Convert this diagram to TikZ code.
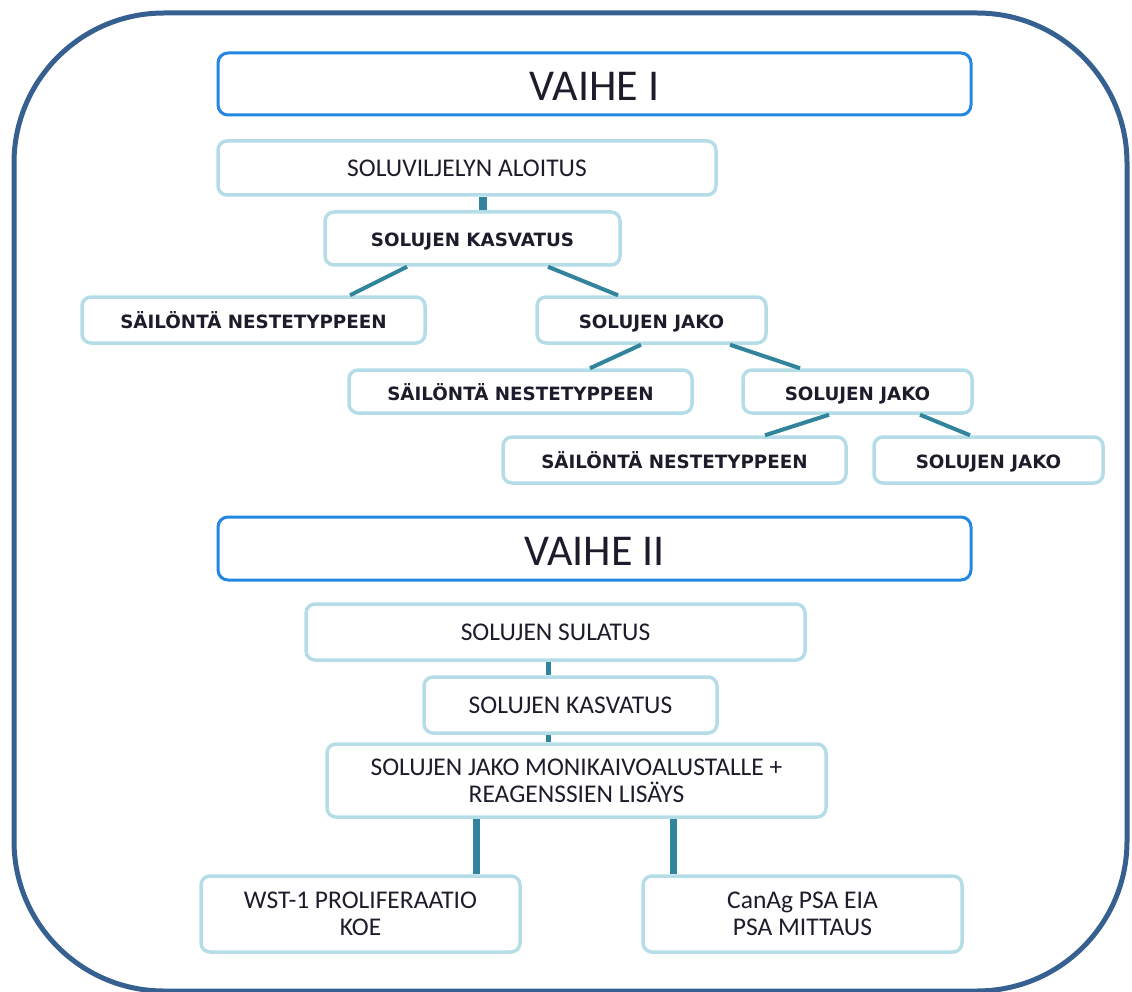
\documentclass[tikz,border=0pt]{standalone}
\usepackage{fontspec}
\setmainfont{Carlito}
\newfontfamily\widefont{DejaVu Sans}
\usetikzlibrary{calc}
\definecolor{framecol}{HTML}{36608F}
\definecolor{phasecol}{HTML}{2287E3}
\definecolor{boxcol}{HTML}{B5DDE8}
\definecolor{linkcol}{HTML}{31849B}
\definecolor{inkcol}{HTML}{1C1C2A}
\begin{document}
\begin{tikzpicture}[x=1pt,y=-1pt,
  phase/.style={draw=phasecol, line width=3pt, rounded corners=10pt, minimum width=753pt, minimum height=62pt, text height=34pt, text depth=0pt, text=inkcol, font=\fontsize{44}{46}\selectfont},
  stepbox/.style={draw=boxcol, line width=3.5pt, rounded corners=9pt, align=center, text=inkcol, font=\fontsize{25.5}{27}\selectfont},
  widebox/.style={stepbox, text height=19pt, text depth=2pt, font=\widefont\bfseries\fontsize{18.3}{20}\selectfont},
  link/.style={draw=linkcol, line width=4pt},
  bar/.style={draw=linkcol, line width=#1},
  bar/.default=7pt]
\useasboundingbox (0,0) rectangle (1132,992);
\draw[framecol, line width=5pt, rounded corners=150pt] (14,13) rectangle (1127,991);
% vaihe I
\node[phase] (vaihe1) at (594.5,84) {VAIHE I};
\node[stepbox, minimum width=498pt, minimum height=54pt] (aloitus) at (467,168) {SOLUVILJELYN ALOITUS};
\node[widebox, minimum width=295pt, minimum height=53pt] (kasvatus1) at (472.5,238.5) {SOLUJEN KASVATUS};
\node[widebox, minimum width=343pt, minimum height=46pt] (sailonta1) at (253.5,320) {SÄILÖNTÄ NESTETYPPEEN};
\node[widebox, minimum width=229pt, minimum height=46pt] (jako1) at (651.5,320) {SOLUJEN JAKO};
\node[widebox, minimum width=343pt, minimum height=43pt] (sailonta2) at (520.5,391.5) {SÄILÖNTÄ NESTETYPPEEN};
\node[widebox, minimum width=229pt, minimum height=43pt] (jako2) at (857.5,391.5) {SOLUJEN JAKO};
\node[widebox, minimum width=343pt, minimum height=46pt] (sailonta3) at (674.5,460) {SÄILÖNTÄ NESTETYPPEEN};
\node[widebox, minimum width=229pt, minimum height=46pt] (jako3) at (988.5,460) {SOLUJEN JAKO};
\draw[bar=8pt] ([xshift=16pt]aloitus.south) -- ([xshift=16pt]aloitus.south |- kasvatus1.north);
\draw[link] ([xshift=-65.5pt]kasvatus1.south) -- ([xshift=96.5pt]sailonta1.north);
\draw[link] ([xshift=75.5pt]kasvatus1.south) -- ([xshift=-33.5pt]jako1.north);
\draw[link] ([xshift=-10.5pt]jako1.south) -- ([xshift=69.5pt]sailonta2.north);
\draw[link] ([xshift=78.5pt]jako1.south) -- ([xshift=-57.5pt]jako2.north);
\draw[link] ([xshift=-28.5pt]jako2.south) -- ([xshift=90.5pt]sailonta3.north);
\draw[link] ([xshift=62.5pt]jako2.south) -- ([xshift=-18.5pt]jako3.north);
% vaihe II
\node[phase, minimum height=63pt] (vaihe2) at (594.5,548.5) {VAIHE II};
\node[stepbox, minimum width=499pt, minimum height=56pt] (sulatus) at (555.5,632) {SOLUJEN SULATUS};
\node[stepbox, minimum width=293pt, minimum height=56pt] (kasvatus2) at (570.5,705) {SOLUJEN KASVATUS};
\node[stepbox, minimum width=499pt, minimum height=73pt] (monikaivo) at (576.5,780.5) {SOLUJEN JAKO MONIKAIVOALUSTALLE +\\REAGENSSIEN LISÄYS};
\node[stepbox, minimum width=319pt, minimum height=76pt] (wst) at (360.5,914) {WST-1 PROLIFERAATIO\\KOE};
\node[stepbox, minimum width=319pt, minimum height=76pt] (canag) at (802.5,914) {CanAg PSA EIA\\PSA MITTAUS};
\draw[bar=5pt] ([xshift=-7.5pt]sulatus.south) -- ([xshift=-7.5pt]sulatus.south |- kasvatus2.north);
\draw[bar=5pt] ([xshift=-22.5pt]kasvatus2.south) -- ([xshift=-22.5pt]kasvatus2.south |- monikaivo.north);
\draw[bar] ([xshift=-100.5pt]monikaivo.south) -- ([xshift=-100.5pt]monikaivo.south |- wst.north);
\draw[bar] ([xshift=96.5pt]monikaivo.south) -- ([xshift=96.5pt]monikaivo.south |- canag.north);
\end{tikzpicture}
\end{document}
